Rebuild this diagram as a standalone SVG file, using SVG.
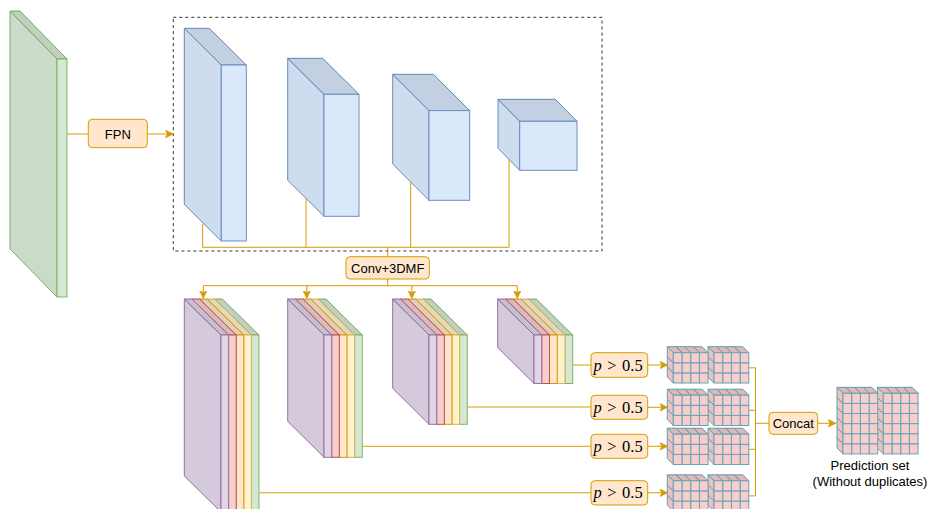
<svg xmlns="http://www.w3.org/2000/svg" xmlns:xlink="http://www.w3.org/1999/xlink" width="930" height="509" viewBox="0 0 930 509">
<style>
.t{font-family:"Liberation Sans",Arial,sans-serif;font-size:13px;fill:#000;stroke:none}
.pt{font-family:"Liberation Serif","Times New Roman",serif;font-size:16.5px;fill:#000}
.box{fill:#ffe6cc;stroke:#d79b00;stroke-width:1}
.ln{fill:none;stroke:#d79b00;stroke-width:1}
.d1{fill:#000;fill-opacity:0.05;stroke:none}
.d2{fill:#000;fill-opacity:0.1;stroke:none}
.grn{fill:#d5e8d4;stroke:#82b366}
.blu{fill:#dae8fc;stroke:#6c8ebf}
.pur{fill:#e1d5e7;stroke:#9673a6}
.red{fill:#f8cecc;stroke:#b85450}
.org{fill:#ffe6cc;stroke:#d79b00}
.yel{fill:#fff2cc;stroke:#d6b656}
.cell{fill:#f8cecc;stroke:#64a5b9;stroke-width:1}
</style>
<defs>
<marker id="arr" markerWidth="10" markerHeight="10" refX="8" refY="4" orient="auto" markerUnits="userSpaceOnUse">
<path d="M0,0 L8,4 L0,8 L2,4 Z" fill="#d79b00" stroke="#d79b00" stroke-width="0.5"/>
</marker>
<!-- small grid cell: front face top-left at origin -->
<g id="c">
<polygon points="-6,-6 2.7,-6 8.7,0 0,0"/>
<polygon class="d2" points="-6,-6 2.7,-6 8.7,0 0,0"/>
<polygon points="-6,-6 0,0 0,10.1 -6,4.1"/>
<polygon class="d1" points="-6,-6 0,0 0,10.1 -6,4.1"/>
<rect x="0" y="0" width="8.7" height="10.1"/>
</g>
<g id="col3">
<use xlink:href="#c" y="20.2"/>
<use xlink:href="#c" y="10.1"/>
<use xlink:href="#c" y="0"/>
</g>
<g id="col6">
<use xlink:href="#col3" y="30.3"/>
<use xlink:href="#col3" y="0"/>
</g>
<g id="pair">
<use xlink:href="#col3" x="66.8"/>
<use xlink:href="#col3" x="58.1"/>
<use xlink:href="#col3" x="49.4"/>
<use xlink:href="#col3" x="40.7"/>
<use xlink:href="#col3" x="26.1"/>
<use xlink:href="#col3" x="17.4"/>
<use xlink:href="#col3" x="8.7"/>
<use xlink:href="#col3" x="0"/>
</g>
<!-- stack cube shapes (L=0, T=0), one per stack -->
<g id="k1">
<polygon points="0,0 36.7,36 36.7,213 0,177"/><polygon class="d1" points="0,0 36.7,36 36.7,213 0,177"/>
<polygon points="0,0 7.6,0 44.3,36 36.7,36"/><polygon class="d2" points="0,0 7.6,0 44.3,36 36.7,36"/>
<rect x="36.7" y="36" width="7.6" height="177"/>
</g>
<g id="k2">
<polygon points="0,0 36.3,36 36.3,158.3 0,122.3"/><polygon class="d1" points="0,0 36.3,36 36.3,158.3 0,122.3"/>
<polygon points="0,0 7.66,0 43.96,36 36.3,36"/><polygon class="d2" points="0,0 7.66,0 43.96,36 36.3,36"/>
<rect x="36.3" y="36" width="7.66" height="122.3"/>
</g>
<g id="k3">
<polygon points="0,0 36.3,36 36.3,125.3 0,89.3"/><polygon class="d1" points="0,0 36.3,36 36.3,125.3 0,89.3"/>
<polygon points="0,0 7.66,0 43.96,36 36.3,36"/><polygon class="d2" points="0,0 7.66,0 43.96,36 36.3,36"/>
<rect x="36.3" y="36" width="7.66" height="89.3"/>
</g>
<g id="k4">
<polygon points="0,0 36.3,36 36.3,84.5 0,48.5"/><polygon class="d1" points="0,0 36.3,36 36.3,84.5 0,48.5"/>
<polygon points="0,0 7.74,0 44.04,36 36.3,36"/><polygon class="d2" points="0,0 7.74,0 44.04,36 36.3,36"/>
<rect x="36.3" y="36" width="7.74" height="48.5"/>
</g>
</defs>

<rect x="0" y="0" width="930" height="509" fill="#fff"/>

<!-- dashed FPN frame -->
<rect id="fpn-frame" x="173.3" y="17.3" width="428.7" height="233.7" fill="none" stroke="#333" stroke-width="1" stroke-dasharray="3,3"/>

<!-- input slab -->
<g id="input" class="grn">
<polygon points="10,11 57,59 57,297 10,249"/><polygon class="d1" points="10,11 57,59 57,297 10,249"/>
<polygon points="10,11 20,11 67,59 57,59"/><polygon class="d2" points="10,11 20,11 67,59 57,59"/>
<rect x="57" y="59" width="10" height="238"/>
</g>

<!-- FPN feature cubes -->
<g id="fpn1" class="blu">
<polygon points="184.3,28.3 221.3,65 221.3,241 184.3,204.3"/><polygon class="d1" points="184.3,28.3 221.3,65 221.3,241 184.3,204.3"/>
<polygon points="184.3,28.3 209.3,28.3 246.3,65 221.3,65"/><polygon class="d2" points="184.3,28.3 209.3,28.3 246.3,65 221.3,65"/>
<rect x="221.3" y="65" width="25" height="176"/>
</g>
<g id="fpn2" class="blu">
<polygon points="287.7,58.3 324,94.3 324,216.3 287.7,180.3"/><polygon class="d1" points="287.7,58.3 324,94.3 324,216.3 287.7,180.3"/>
<polygon points="287.7,58.3 322.7,58.3 359,94.3 324,94.3"/><polygon class="d2" points="287.7,58.3 322.7,58.3 359,94.3 324,94.3"/>
<rect x="324" y="94.3" width="35" height="122"/>
</g>
<g id="fpn3" class="blu">
<polygon points="392.7,74.3 429,110.6 429,200.3 392.7,164"/><polygon class="d1" points="392.7,74.3 429,110.6 429,200.3 392.7,164"/>
<polygon points="392.7,74.3 433.4,74.3 469.7,110.6 429,110.6"/><polygon class="d2" points="392.7,74.3 433.4,74.3 469.7,110.6 429,110.6"/>
<rect x="429" y="110.6" width="40.7" height="89.7"/>
</g>
<g id="fpn4" class="blu">
<polygon points="498,99.3 519.7,121.3 519.7,170.3 498,148.3"/><polygon class="d1" points="498,99.3 519.7,121.3 519.7,170.3 498,148.3"/>
<polygon points="498,99.3 555.3,99.3 577,121.3 519.7,121.3"/><polygon class="d2" points="498,99.3 555.3,99.3 577,121.3 519.7,121.3"/>
<rect x="519.7" y="121.3" width="57.3" height="49"/>
</g>

<!-- connectors -->
<g id="connectors">
<line class="ln" x1="67" y1="134" x2="88.3" y2="134"/>
<line class="ln" x1="147.3" y1="134" x2="173.3" y2="134" marker-end="url(#arr)"/>
<path class="ln" d="M202.7,223.7 V247.3 M306,198.7 V247.3 M410.7,182 V247.3 M509,159.3 V247.3 M202.7,247.3 H509 M387.7,247.3 V256.7"/>
<path class="ln" d="M387.7,279 V285.7 M203.3,285.7 H517.3"/>
<line class="ln" x1="203.3" y1="285.7" x2="203.3" y2="298.5" marker-end="url(#arr)"/>
<line class="ln" x1="306.8" y1="285.7" x2="306.8" y2="298.5" marker-end="url(#arr)"/>
<line class="ln" x1="411.8" y1="285.7" x2="411.8" y2="298.5" marker-end="url(#arr)"/>
<line class="ln" x1="517.3" y1="285.7" x2="517.3" y2="298.5" marker-end="url(#arr)"/>
<path class="ln" d="M572.7,365 H591 M467.3,407 H591 M362.3,446.3 H591 M259.3,492.8 H591"/>
<line class="ln" x1="647.7" y1="365" x2="667.7" y2="365" marker-end="url(#arr)"/>
<line class="ln" x1="647.7" y1="407.3" x2="667.7" y2="407.3" marker-end="url(#arr)"/>
<line class="ln" x1="647.7" y1="446.3" x2="667.7" y2="446.3" marker-end="url(#arr)"/>
<line class="ln" x1="647.7" y1="492.8" x2="667.7" y2="492.8" marker-end="url(#arr)"/>
<path class="ln" d="M740,367.8 H755.5 M740,410.3 H755.5 M740,449.3 H755.5 M740,495.9 H755.5 M755.5,367.8 V495.9 M755.5,423.3 H769"/>
<line class="ln" x1="817.7" y1="423.3" x2="836" y2="423.3" marker-end="url(#arr)"/>
</g>

<!-- FPN box -->
<g id="fpn">
<rect class="box" x="88.3" y="119.3" width="59" height="28.4" rx="4"/>
<text class="t" x="117.8" y="138.7" text-anchor="middle">FPN</text>
</g>

<!-- Conv+3DMF box -->
<g id="conv">
<rect class="box" x="346" y="256.7" width="83.3" height="22.3" rx="4"/>
<text class="t" x="387.7" y="272.5" text-anchor="middle">Conv+3DMF</text>
</g>

<!-- stacks of fused features -->
<g id="stack1">
<use xlink:href="#k1" x="214.7" y="299" class="grn"/>
<use xlink:href="#k1" x="207.1" y="299" class="yel"/>
<use xlink:href="#k1" x="199.5" y="299" class="org"/>
<use xlink:href="#k1" x="191.9" y="299" class="red"/>
<use xlink:href="#k1" x="184.3" y="299" class="pur"/>
</g>
<g id="stack2">
<use xlink:href="#k2" x="318.34" y="299" class="grn"/>
<use xlink:href="#k2" x="310.68" y="299" class="yel"/>
<use xlink:href="#k2" x="303.02" y="299" class="org"/>
<use xlink:href="#k2" x="295.36" y="299" class="red"/>
<use xlink:href="#k2" x="287.7" y="299" class="pur"/>
</g>
<g id="stack3">
<use xlink:href="#k3" x="423.34" y="299" class="grn"/>
<use xlink:href="#k3" x="415.68" y="299" class="yel"/>
<use xlink:href="#k3" x="408.02" y="299" class="org"/>
<use xlink:href="#k3" x="400.36" y="299" class="red"/>
<use xlink:href="#k3" x="392.7" y="299" class="pur"/>
</g>
<g id="stack4">
<use xlink:href="#k4" x="528.66" y="299" class="grn"/>
<use xlink:href="#k4" x="520.92" y="299" class="yel"/>
<use xlink:href="#k4" x="513.18" y="299" class="org"/>
<use xlink:href="#k4" x="505.44" y="299" class="red"/>
<use xlink:href="#k4" x="497.7" y="299" class="pur"/>
</g>

<!-- threshold boxes -->
<g id="thr1">
<rect class="box" x="591" y="352.7" width="56.7" height="24.6" rx="4"/>
<text class="pt" x="593.5" y="370.5"><tspan font-style="italic">p</tspan><tspan dx="5.5">&gt;</tspan><tspan dx="5.5">0.5</tspan></text>
</g>
<g id="thr2">
<rect class="box" x="591" y="395.3" width="56.7" height="24" rx="4"/>
<text class="pt" x="593.5" y="412.8"><tspan font-style="italic">p</tspan><tspan dx="5.5">&gt;</tspan><tspan dx="5.5">0.5</tspan></text>
</g>
<g id="thr3">
<rect class="box" x="591" y="434.3" width="56.7" height="24" rx="4"/>
<text class="pt" x="593.5" y="451.8"><tspan font-style="italic">p</tspan><tspan dx="5.5">&gt;</tspan><tspan dx="5.5">0.5</tspan></text>
</g>
<g id="thr4">
<rect class="box" x="591" y="480.7" width="56.7" height="24.3" rx="4"/>
<text class="pt" x="593.5" y="498.3"><tspan font-style="italic">p</tspan><tspan dx="5.5">&gt;</tspan><tspan dx="5.5">0.5</tspan></text>
</g>

<!-- voxel prediction grids -->
<g id="grid1" class="cell"><use xlink:href="#pair" x="673.3" y="352.7"/></g>
<g id="grid2" class="cell"><use xlink:href="#pair" x="673.3" y="395.2"/></g>
<g id="grid3" class="cell"><use xlink:href="#pair" x="673.3" y="434.2"/></g>
<g id="grid4" class="cell"><use xlink:href="#pair" x="673.3" y="480.8"/></g>

<!-- Concat box -->
<g id="concat">
<rect class="box" x="769" y="412.3" width="48.7" height="22" rx="4"/>
<text class="t" x="793.3" y="427.8" text-anchor="middle">Concat</text>
</g>

<!-- prediction set -->
<g id="prediction">
<g class="cell">
<use xlink:href="#col6" x="909.4" y="393.3"/>
<use xlink:href="#col6" x="900.7" y="393.3"/>
<use xlink:href="#col6" x="892" y="393.3"/>
<use xlink:href="#col6" x="883.3" y="393.3"/>
<use xlink:href="#col6" x="869.1" y="393.3"/>
<use xlink:href="#col6" x="860.4" y="393.3"/>
<use xlink:href="#col6" x="851.7" y="393.3"/>
<use xlink:href="#col6" x="843" y="393.3"/>
</g>
<text class="t" x="870" y="470" text-anchor="middle">Prediction set</text>
<text class="t" x="870" y="485.5" text-anchor="middle">(Without duplicates)</text>
</g>
</svg>
